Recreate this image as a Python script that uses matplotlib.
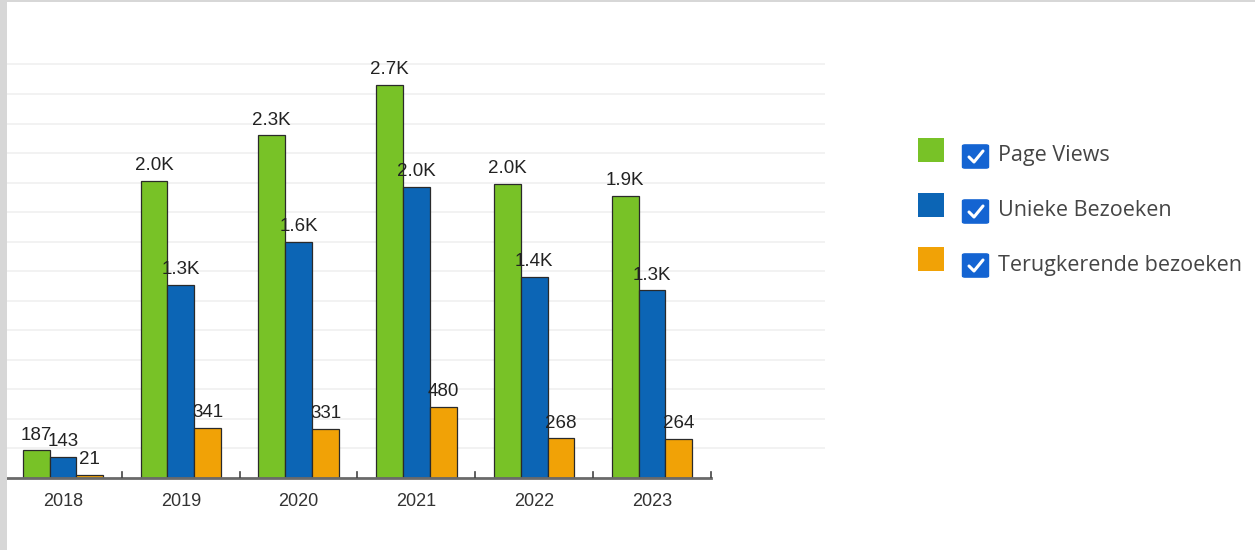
from matplotlib import pyplot as plt
from matplotlib.patches import Rectangle, FancyBboxPatch
from matplotlib.lines import Line2D
import numpy as np

years = ['2018', '2019', '2020', '2021', '2022', '2023']
page_views = [187, 2010, 2320, 2660, 1990, 1910]
unieke = [143, 1310, 1600, 1970, 1360, 1270]
terugkerend = [21, 341, 331, 480, 268, 264]
labels_pv = ['187', '2.0K', '2.3K', '2.7K', '2.0K', '1.9K']
labels_un = ['143', '1.3K', '1.6K', '2.0K', '1.4K', '1.3K']
labels_tk = ['21', '341', '331', '480', '268', '264']
series_names = ['Page Views', 'Unieke Bezoeken', 'Terugkerende bezoeken']
colors = ['#78c227', '#0c65b5', '#f1a206']

W, H = 1255, 550
fig = plt.figure(figsize=(W / 100, H / 100), dpi=100)
fig.patch.set_facecolor('white')

def fx(px):
    return px / W

def fy(py):
    return 1 - py / H

# gray frame strip at left / top
fig.add_artist(Rectangle((0, 0), fx(7), 1, transform=fig.transFigure, color='#d7d7d7', lw=0))
fig.add_artist(Rectangle((0, fy(2)), 1, 2 / H, transform=fig.transFigure, color='#d7d7d7', lw=0))

ax = fig.add_axes([fx(7), fy(478), fx(825) - fx(7), fy(60) - fy(478)])
ax.set_facecolor('none')
for s in ax.spines.values():
    s.set_visible(False)

x = np.arange(len(years))
w = 0.228
ax.set_xlim((7 - 63) / 117.8, (825 - 63) / 117.8)
ax.set_ylim(0, 2830)

for gy in range(200, 2801, 200):
    ax.axhline(gy, color='#f0f0f0', lw=1.2, zorder=0)

data = [page_views, unieke, terugkerend]
labs = [labels_pv, labels_un, labels_tk]
for k in range(3):
    pos = x + (k - 1) * w
    ax.bar(pos, data[k], w, color=colors[k], edgecolor='#2a2a2a', lw=0.9, zorder=3)
    for p, v, t in zip(pos, data[k], labs[k]):
        ax.text(p, v + 45, t, ha='center', va='bottom', fontsize=13.5,
                family='Liberation Sans', color='#222222', zorder=4)

# baseline and group separators
ax.plot([-0.5, 5.5], [0, 0], color='#6a6a6a', lw=2, zorder=5, clip_on=False)
for sx in np.arange(0.5, 5.6, 1):
    ax.plot([sx, sx], [0, 40], color='#444444', lw=1.2, zorder=5)

ax.set_xticks(x)
ax.set_xticklabels(years, fontsize=13, family='Liberation Sans', color='#333333')
ax.tick_params(axis='x', length=0, pad=11)
ax.set_yticks([])

# legend
rows = [150, 205, 259]
for k, cy in enumerate(rows):
    fig.add_artist(Rectangle((fx(918), fy(cy + 12)), fx(26), 24 / H,
                             transform=fig.transFigure, color=colors[k], lw=0))
    bx, by = 963, cy + 6
    fig.add_artist(FancyBboxPatch((fx(bx + 2), fy(by + 11)), fx(21), 21 / H,
                                  boxstyle='round,pad=0.002', transform=fig.transFigure,
                                  facecolor='#1464d2', edgecolor='#1464d2', lw=1))
    cx = [bx + 6, bx + 11, bx + 20]
    cyy = [by + 1, by + 6, by - 5]
    fig.add_artist(Line2D([fx(c) for c in cx], [fy(c) for c in cyy],
                          transform=fig.transFigure, color='white', lw=2.2,
                          solid_capstyle='round', solid_joinstyle='round'))
    fig.text(fx(998), fy(by), series_names[k], ha='left', va='center',
             fontsize=15.5, family='Open Sans', color='#454545')

fig.savefig('out.png', dpi=100)
